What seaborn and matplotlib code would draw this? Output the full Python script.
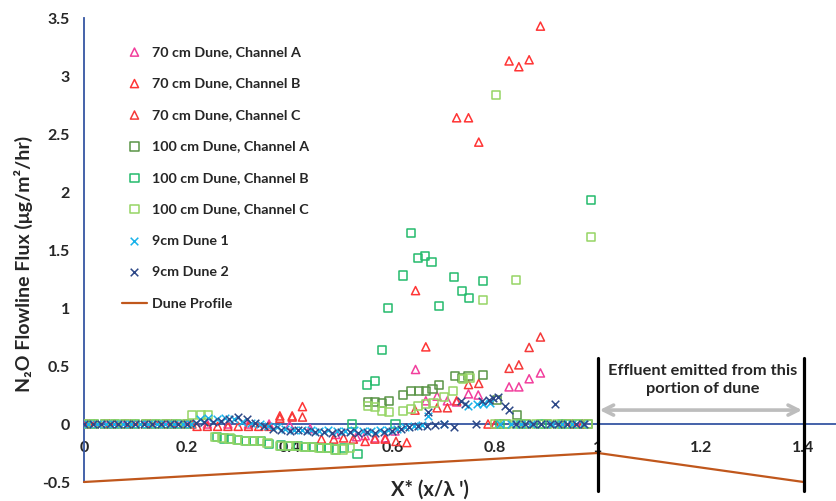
import matplotlib
matplotlib.use("Agg")
import matplotlib.pyplot as plt
import seaborn as sns
import pandas as pd

# ---- measured N2O flowline flux along normalised dune position X* ----
x_70A = [0.00, 0.04, 0.08, 0.12, 0.16, 0.20, 0.24, 0.28, 0.32, 0.36, 0.40, 0.44, 0.49, 0.53, 0.547, 0.566,
         0.586, 0.605, 0.645, 0.665, 0.687, 0.707, 0.725, 0.748, 0.767, 0.80, 0.827, 0.846, 0.866, 0.888,
         0.93, 0.968]
y_70A = [0, 0, 0, 0, 0, 0, 0, 0, 0, 0, -0.01, -0.04, -0.09, -0.11, -0.10, -0.12,
         -0.12, -0.06, 0.47, 0.20, 0.24, 0.20, 0.19, 0.26, 0.25, 0, 0.32, 0.32, 0.39, 0.44,
         0, 0]

x_70B = [0.00, 0.02, 0.06, 0.10, 0.14, 0.18, 0.22, 0.26, 0.30, 0.34, 0.381, 0.405, 0.425, 0.462, 0.505,
         0.547, 0.586, 0.628, 0.645, 0.665, 0.725, 0.748, 0.768, 0.786, 0.827, 0.846, 0.866, 0.888, 0.95]
y_70B = [0, 0, 0, 0, 0, 0, -0.02, -0.02, -0.02, -0.02, 0.07, 0.07, 0.15, -0.13, -0.12,
         -0.15, -0.13, -0.16, 1.15, 0.665, 2.64, 2.64, 2.43, 0, 3.13, 3.08, 3.14, 3.43, 0]

x_70C = [0.01, 0.05, 0.09, 0.13, 0.17, 0.21, 0.24, 0.28, 0.32, 0.36, 0.381, 0.405, 0.425, 0.486, 0.524,
         0.566, 0.607, 0.644, 0.687, 0.707, 0.725, 0.748, 0.768, 0.80, 0.827, 0.846, 0.866, 0.888, 0.97]
y_70C = [0, 0, 0, 0, 0, 0, -0.02, -0.02, -0.02, -0.02, 0.05, 0.06, 0.06, -0.13, -0.13,
         -0.13, -0.15, 0.12, 0.14, 0.14, 0.20, 0.34, 0.35, 0, 0.48, 0.51, 0.66, 0.75, 0]

x_100A = [0.00, 0.04, 0.08, 0.12, 0.16, 0.20, 0.553, 0.566, 0.579, 0.593, 0.620, 0.636, 0.651, 0.665,
          0.678, 0.691, 0.722, 0.735, 0.748, 0.776, 0.803, 0.842, 0.82, 0.86, 0.90, 0.94, 0.98]
y_100A = [0, 0, 0, 0, 0, 0, 0.19, 0.19, 0.18, 0.20, 0.25, 0.285, 0.285, 0.285,
          0.305, 0.34, 0.41, 0.40, 0.41, 0.42, 0.205, 0.08, 0, 0, 0, 0, 0]

x_100B = [0.02, 0.06, 0.10, 0.14, 0.18, 0.258, 0.272, 0.286, 0.300, 0.316, 0.331, 0.345, 0.360, 0.384,
          0.401, 0.416, 0.431, 0.446, 0.461, 0.476, 0.491, 0.506, 0.522, 0.532, 0.551, 0.566, 0.579,
          0.592, 0.606, 0.620, 0.636, 0.650, 0.664, 0.676, 0.691, 0.720, 0.735, 0.749, 0.776, 0.81,
          0.85, 0.89, 0.93, 0.96, 0.986]
y_100B = [0, 0, 0, 0, 0, -0.115, -0.125, -0.13, -0.14, -0.145, -0.145, -0.15, -0.17, -0.185,
          -0.19, -0.19, -0.20, -0.20, -0.21, -0.21, -0.22, -0.21, 0, -0.26, 0.34, 0.37, 0.64,
          1.00, 0, 1.28, 1.65, 1.43, 1.45, 1.40, 1.02, 1.27, 1.15, 1.09, 1.23, 0,
          0, 0, 0, 0, 1.93]

x_100C = [0.00, 0.02, 0.04, 0.06, 0.08, 0.10, 0.12, 0.14, 0.16, 0.18, 0.20, 0.210, 0.227, 0.242,
          0.255, 0.269, 0.283, 0.297, 0.313, 0.328, 0.342, 0.357, 0.381, 0.398, 0.413, 0.428, 0.443,
          0.458, 0.473, 0.488, 0.503, 0.518, 0.553, 0.566, 0.579, 0.593, 0.620, 0.636, 0.650, 0.665,
          0.680, 0.700, 0.718, 0.738, 0.750, 0.776, 0.802, 0.841, 0.80, 0.82, 0.84, 0.86, 0.88,
          0.90, 0.92, 0.94, 0.96, 0.98, 0.986]
y_100C = [0, 0, 0, 0, 0, 0, 0, 0, 0, 0, 0, 0.08, 0.08, 0.08,
          -0.11, -0.12, -0.125, -0.135, -0.145, -0.145, -0.145, -0.16, -0.19, -0.19, -0.19, -0.20, -0.20,
          -0.21, -0.21, -0.22, -0.22, -0.21, 0.155, 0.15, 0.11, 0.10, 0.11, 0.13, 0.155, 0.175,
          0.18, 0.23, 0.285, 0.385, 0.40, 1.07, 2.84, 1.24, 0, 0, 0, 0, 0,
          0, 0, 0, 0, 0, 1.61]

x_9cm1 = [0.008, 0.025, 0.042, 0.058, 0.075, 0.092, 0.108, 0.125, 0.142, 0.158, 0.175, 0.192, 0.208,
          0.225, 0.242, 0.258, 0.275, 0.292, 0.308, 0.325, 0.342, 0.358, 0.375, 0.392, 0.408, 0.425,
          0.442, 0.458, 0.475, 0.492, 0.508, 0.525, 0.542, 0.558, 0.575, 0.592, 0.608, 0.625, 0.642,
          0.658, 0.670, 0.700, 0.747, 0.765, 0.777, 0.790, 0.81, 0.83, 0.85, 0.87, 0.89, 0.91, 0.93,
          0.95, 0.97]
y_9cm1 = [0, 0, 0, 0, 0, 0, 0, 0, 0, 0, 0, 0, 0,
          0.04, 0.05, 0.04, 0.05, 0.04, 0.02, 0.01, 0.0, -0.02, -0.03, -0.04, -0.05, -0.05,
          -0.05, -0.06, -0.05, -0.06, -0.06, -0.05, -0.06, -0.06, -0.05, -0.05, -0.04, -0.03, -0.02,
          -0.01, 0.07, 0.0, 0.155, 0.17, 0.17, 0.18, 0, 0, 0, 0, 0, 0, 0,
          0, 0]

x_9cm2 = [0.000, 0.017, 0.033, 0.050, 0.067, 0.083, 0.100, 0.117, 0.133, 0.150, 0.167, 0.183, 0.200,
          0.217, 0.233, 0.250, 0.267, 0.283, 0.300, 0.317, 0.333, 0.350, 0.367, 0.383, 0.400, 0.417,
          0.433, 0.450, 0.467, 0.483, 0.500, 0.517, 0.533, 0.550, 0.567, 0.583, 0.600, 0.617, 0.633,
          0.650, 0.667, 0.670, 0.683, 0.700, 0.719, 0.733, 0.741, 0.762, 0.774, 0.787, 0.795, 0.806,
          0.819, 0.827, 0.840, 0.857, 0.873, 0.890, 0.907, 0.916, 0.923, 0.940, 0.957, 0.973]
y_9cm2 = [0, 0, 0, 0, 0, 0, 0, 0, 0, 0, 0, 0, 0,
          0.01, 0.02, 0.02, 0.03, 0.04, 0.06, 0.04, 0.01, -0.02, -0.04, -0.05, -0.06, -0.05,
          -0.06, -0.07, -0.07, -0.08, -0.07, -0.07, -0.08, -0.07, -0.08, -0.07, -0.06, -0.04, -0.03,
          -0.02, -0.02, 0.10, -0.01, 0.0, -0.03, 0.20, 0.17, 0, 0.20, 0.21, 0.22, 0.23,
          0.155, 0.12, 0, 0, 0, 0, 0, 0.17, 0, 0, 0, 0]

# dune bed profile (crest at X* = 1, trough at 0 and 1.4)
profile_x = [0.0, 1.0, 1.4]
profile_y = [-0.5, -0.25, -0.5]

series = [
    ("70 cm Dune, Channel A", x_70A, y_70A, "^", "#f23f9d"),
    ("70 cm Dune, Channel B", x_70B, y_70B, "^", "#ff3535"),
    ("70 cm Dune, Channel C", x_70C, y_70C, "^", "#f53a3a"),
    ("100 cm Dune, Channel A", x_100A, y_100A, "s", "#5a9447"),
    ("100 cm Dune, Channel B", x_100B, y_100B, "s", "#24bb6c"),
    ("100 cm Dune, Channel C", x_100C, y_100C, "s", "#96d565"),
    ("9cm Dune 1", x_9cm1, y_9cm1, "x", "#19b2ea"),
    ("9cm Dune 2", x_9cm2, y_9cm2, "x", "#2d4887"),
]

sns.set_theme(style="white")
plt.rcParams["font.family"] = ["Lato", "DejaVu Sans"]
plt.rcParams["font.weight"] = "bold"

fig = plt.figure(figsize=(8.36, 5.01), dpi=100)
ax = fig.add_axes([84 / 836, 19 / 501, 752 / 836, 464 / 501])

axis_blue = "#3656a3"
handles = []
for name, xs, ys, mk, col in series:
    df = pd.DataFrame({"x": xs, "y": ys})
    if mk == "x":
        sns.scatterplot(data=df, x="x", y="y", marker="x", color=col, s=30,
                        linewidth=1.1, ax=ax, label=name, legend=False, zorder=3)
    else:
        sns.scatterplot(data=df, x="x", y="y", marker=mk, s=34, ax=ax, label=name,
                        legend=False, zorder=3)
        coll = ax.collections[-1]
        coll.set_facecolor("none")
        coll.set_edgecolor(col)
        coll.set_linewidth(1.1)
    handles.append(ax.collections[-1])

prof = pd.DataFrame({"x": profile_x, "y": profile_y})
sns.lineplot(data=prof, x="x", y="y", sort=False, estimator=None, color="#c0571c",
             linewidth=1.6, ax=ax, label="Dune Profile", legend=False, zorder=2)
line = ax.lines[-1]
line.set_clip_on(False)
handles.append(line)

ax.set_xlim(0, 1.463)
ax.set_ylim(-0.5, 3.5)

# horizontal axis drawn through y = 0
for s in ["top", "right"]:
    ax.spines[s].set_visible(False)
ax.spines["bottom"].set_position(("data", 0))
for s in ["left", "bottom"]:
    ax.spines[s].set_color(axis_blue)
    ax.spines[s].set_linewidth(1.3)
    ax.spines[s].set_zorder(1)

ax.set_xticks([0, 0.2, 0.4, 0.6, 0.8, 1.0, 1.2, 1.4])
ax.set_xticklabels(["0", "0.2", "0.4", "0.6", "0.8", "1", "1.2", "1.4"])
ax.set_yticks([-0.5, 0, 0.5, 1, 1.5, 2, 2.5, 3, 3.5])
ax.set_yticklabels(["-0.5", "0", "0.5", "1", "1.5", "2", "2.5", "3", "3.5"])
ax.tick_params(axis="x", length=0, pad=12, labelsize=11.5)
ax.tick_params(axis="y", length=0, pad=10, labelsize=11.5)
for lab in ax.get_xticklabels() + ax.get_yticklabels():
    lab.set_fontweight("bold")
ax.set_xlabel("")
ax.set_ylabel("")

fig.text(23 / 836, 1 - 264 / 501, "N₂O Flowline Flux (μg/m²/hr)", rotation=90,
         ha="center", va="center", fontsize=14, fontweight="bold")
ax.text(0.673, -0.57, "X* (x/λ ')", ha="center", va="center", fontsize=14.5,
        fontweight="bold", clip_on=False)

# outflow section of the dune
for xv in (1.0, 1.4):
    ax.plot([xv, xv], [-0.58, 0.57], color="black", linewidth=2.3, clip_on=False, zorder=4)
ax.annotate("", xy=(1.397, 0.12), xytext=(1.003, 0.12),
            arrowprops=dict(arrowstyle="<->", color="#bdbdbd", lw=2.6, mutation_scale=18,
                            shrinkA=0, shrinkB=0))
ax.text(1.203, 0.38, "Effluent emitted from this\nportion of dune", ha="center", va="center",
        fontsize=11.8, fontweight="bold", linespacing=1.4)

leg = ax.legend(handles=handles, labels=[h.get_label() for h in handles], loc="upper left",
                bbox_to_anchor=(0.05, 0.94), frameon=False, labelspacing=1.36,
                handlelength=1.8, handletextpad=0.3, borderpad=0, borderaxespad=0,
                prop={"weight": "bold", "size": 10.3})

fig.savefig("out.png", dpi=100)
